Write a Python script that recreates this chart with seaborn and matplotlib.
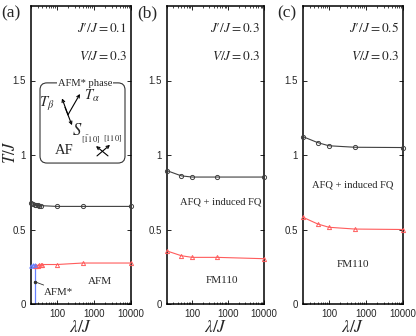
import numpy as np
import pandas as pd
import matplotlib.pyplot as plt
import seaborn as sns
from matplotlib.patches import FancyBboxPatch
from matplotlib.ticker import LogLocator, NullFormatter

sns.set_style("ticks")
plt.rcParams['font.family'] = ['Liberation Sans', 'DejaVu Sans']
plt.rcParams['mathtext.fontset'] = 'stix'

# Daten
lam_a_q = [20, 23, 25, 27, 30, 33, 37, 100, 500, 10000]
T_a_q = [0.675, 0.67, 0.665, 0.665, 0.662, 0.66, 0.66, 0.655, 0.655, 0.655]
lam_a_m = [25, 27, 30, 33, 37, 40, 100, 500, 10000]
T_a_m = [0.255, 0.255, 0.258, 0.26, 0.262, 0.265, 0.265, 0.275, 0.275]
lam_a_star = [20, 23, 25]
T_a_star = [0.255, 0.26, 0.26]

lam = [20, 50, 100, 500, 10000]
T_b_q = [0.895, 0.86, 0.852, 0.852, 0.852]
T_b_m = [0.356, 0.324, 0.313, 0.313, 0.304]
T_c_q = [1.123, 1.083, 1.062, 1.052, 1.05]
T_c_m = [0.582, 0.537, 0.515, 0.503, 0.50]

params = [("0.1", "0.3"), ("0.3", "0.3"), ("0.5", "0.3")]
panel_names = ["(a)", "(b)", "(c)"]

col_q = '#404040'
col_m = '#ff5c5c'
col_star = '#6680ff'
serif = ['Liberation Serif', 'DejaVu Serif']

fig = plt.figure(figsize=(4.16, 3.36), dpi=100)
W, H = 416, 336
boxes = [(31, 131), (167, 264), (303, 403)]
axes = []
for (l, r) in boxes:
    axes.append(fig.add_axes([l / W, (336 - 304) / H, (r - l) / W, 298 / H]))


def curve(ax, x, y, color, marker, ms=3.0):
    sns.lineplot(x=x, y=y, ax=ax, color=color, marker=marker, markersize=ms,
                 markerfacecolor='none', markeredgecolor=color, markeredgewidth=0.7,
                 linewidth=0.8, clip_on=False, zorder=3)


for i, ax in enumerate(axes):
    ax.set_xscale('log')
    ax.set_xlim(20, 10000)
    ax.set_ylim(0, 2)
    ax.set_xticks([100, 1000, 10000])
    ax.set_xticklabels(['100', '1000', '10000'])
    ax.xaxis.set_minor_locator(LogLocator(base=10, subs=np.arange(2, 10)))
    ax.xaxis.set_minor_formatter(NullFormatter())
    ax.set_yticks([0, 0.5, 1, 1.5])
    ax.set_yticklabels(['0', '0.5', '1', '1.5'])
    ax.tick_params(which='both', direction='in', top=True, right=True, labelsize=7, pad=3.5)
    ax.tick_params(which='major', length=3, width=0.7)
    ax.tick_params(which='minor', length=1.6, width=0.6)
    for s in ax.spines.values():
        s.set_linewidth(1.1)
        s.set_color('black')
    ax.set_xlabel(r'$\lambda/J$', fontsize=12.5, labelpad=0)
    jp, v = params[i]
    ax.text(0.96, 0.925, r"$J\prime/J = %s$" % jp, transform=ax.transAxes, ha='right', va='center', fontsize=9.5)
    ax.text(0.96, 0.83, r"$V/J = %s$" % v, transform=ax.transAxes, ha='right', va='center', fontsize=9.5)
    fig.text([1, 137, 277][i] / W, 1 - 13 / H, panel_names[i], fontsize=12.5, family=serif, va='center')

axes[0].set_ylabel(r'$T/J$', fontsize=12)
axes[0].yaxis.set_label_coords(-0.13, 0.51)

# (a)
ax = axes[0]
curve(ax, lam_a_q, T_a_q, col_q, 'o')
curve(ax, lam_a_m, T_a_m, col_m, '^')
curve(ax, lam_a_star, T_a_star, col_star, '^', ms=2.6)
ax.plot([25, 25], [0, 0.26], color=col_star, lw=0.9, zorder=2)
ax.annotate('AFM*', xy=(25, 0.15), xytext=(44, 0.075), fontsize=7.8, family=serif,
            va='center', arrowprops=dict(arrowstyle='-', color='#333333', lw=0.6, shrinkA=0, shrinkB=0,
                                         relpos=(0.3, 1)))
ax.plot([25], [0.15], 'o', color='#333333', ms=1.5)
ax.text(0.54, 0.51, 'AFQ + induced FQ', transform=ax.transAxes, ha='center', va='center', fontsize=7.6, family=serif)
ax.text(0.69, 0.077, 'AFM', transform=ax.transAxes, ha='center', va='center', fontsize=8, family=serif)

# Inset AFM* phase
box = FancyBboxPatch((0.09, 0.473), 0.85, 0.269, transform=ax.transAxes,
                     boxstyle='round,pad=0,rounding_size=0.07', mutation_aspect=100 / 298,
                     fc='white', ec='#333333', lw=0.8, zorder=4)
ax.add_patch(box)
ax.text(0.54, 0.739, 'AFM* phase', transform=ax.transAxes, ha='center', va='center', fontsize=7.6,
        family=serif, zorder=5, bbox=dict(fc='white', ec='none', pad=0.5))
ax.text(0.16, 0.672, r'$T_{\beta}$', transform=ax.transAxes, ha='center', va='center', fontsize=10.5, zorder=5)
ax.text(0.61, 0.697, r'$T_{\alpha}$', transform=ax.transAxes, ha='center', va='center', fontsize=10.5, zorder=5)
ax.text(0.46, 0.585, r'$S$', transform=ax.transAxes, ha='center', va='center', fontsize=12, zorder=5)
ax.text(0.33, 0.515, 'AF', transform=ax.transAxes, ha='center', va='center', fontsize=10.5, family=serif, zorder=5)
ax.text(0.595, 0.553, r'$[\bar{1}10]$', transform=ax.transAxes, ha='center', va='center', fontsize=6, zorder=5)
ax.text(0.815, 0.553, r'$[110]$', transform=ax.transAxes, ha='center', va='center', fontsize=6, zorder=5)
arr = dict(arrowstyle='->', color='black', lw=0.8, mutation_scale=5, shrinkA=0, shrinkB=0)
for start, end in [((0.37, 0.635), (0.31, 0.69)), ((0.37, 0.635), (0.49, 0.705)),
                   ((0.34, 0.66), (0.41, 0.6)), ((0.77, 0.497), (0.65, 0.53)),
                   ((0.66, 0.497), (0.79, 0.534))]:
    ax.annotate('', xy=end, xytext=start, xycoords='axes fraction', arrowprops=arr, zorder=5)

# (b)
ax = axes[1]
curve(ax, lam, T_b_q, col_q, 'o')
curve(ax, lam, T_b_m, col_m, '^')
ax.text(0.55, 0.342, 'AFQ + induced FQ', transform=ax.transAxes, ha='center', va='center', fontsize=7.6, family=serif)
ax.text(0.57, 0.08, 'FM110', transform=ax.transAxes, ha='center', va='center', fontsize=8, family=serif)

# (c)
ax = axes[2]
curve(ax, lam, T_c_q, col_q, 'o')
curve(ax, lam, T_c_m, col_m, '^')
ax.text(0.5, 0.4, 'AFQ + induced FQ', transform=ax.transAxes, ha='center', va='center', fontsize=7.6, family=serif)
ax.text(0.5, 0.134, 'FM110', transform=ax.transAxes, ha='center', va='center', fontsize=8, family=serif)

fig.savefig('out.png', dpi=100)
